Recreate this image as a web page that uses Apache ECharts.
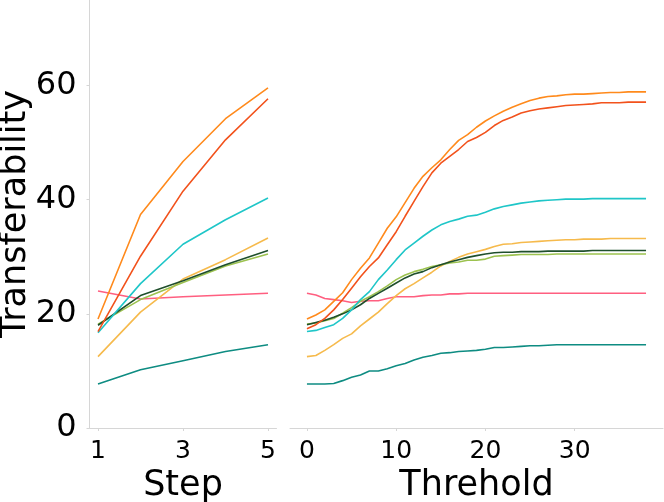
<!DOCTYPE html>
<html>
<head>
<meta charset="utf-8">
<script src="https://cdn.jsdelivr.net/npm/echarts@6/dist/echarts.min.js"></script>
<style>
  html, body { margin: 0; padding: 0; background: #fff; }
  #chart { width: 664px; height: 502px; }
</style>
</head>
<body>
<div id="chart"></div>
<script>
// x values of the two panels
var steps = [1, 2, 3, 4, 5];
var thresholds = [0, 1, 2, 3, 4, 5, 6, 7, 8, 9, 10, 11, 12, 13, 14, 15, 16, 17, 18, 19,
  20, 21, 22, 23, 24, 25, 26, 27, 28, 29, 30, 31, 32, 33, 34, 35, 36, 37, 38];

// tick labels
var yTicks = [0, 20, 40, 60];
var stepTicks = [1, 3, 5];
var thresholdTicks = [0, 10, 20, 30];

// left panel (Step)
var orangeStep = [19.1, 37.4, 46.7, 54.2, 59.6];
var redStep = [16.9, 30.1, 41.5, 50.5, 57.7];
var cyanStep = [16.7, 25.3, 32.2, 36.5, 40.3];
var yellowStep = [12.5, 20.3, 26.1, 29.5, 33.3];
var darkGreenStep = [18.0, 23.2, 25.8, 28.6, 31.1];
var lightGreenStep = [18.2, 22.5, 25.5, 28.4, 30.5];
var pinkStep = [24.0, 22.6, 23.0, 23.3, 23.6];
var tealStep = [7.7, 10.2, 11.8, 13.4, 14.6];

// right panel (Threhold)
var orangeThr = [19.1, 19.8, 20.7, 22.2, 23.7, 26.0, 28.0, 29.8, 32.4, 35.0, 37.0, 39.5, 42.0, 44.1, 45.6, 47.0, 48.8, 50.4, 51.4, 52.7,
  53.8, 54.7, 55.5, 56.2, 56.8, 57.4, 57.8, 58.1, 58.2, 58.4, 58.5, 58.5, 58.6, 58.7, 58.8, 58.8, 58.9, 58.9, 58.9];
var redThr = [17.4, 18.1, 19.2, 20.7, 22.5, 24.5, 26.5, 28.3, 29.8, 32.1, 34.4, 37.1, 39.7, 42.3, 44.7, 46.4, 47.6, 48.8, 50.2, 50.9,
  51.8, 53.0, 53.9, 54.5, 55.2, 55.6, 55.9, 56.1, 56.3, 56.5, 56.6, 56.7, 56.8, 57.0, 57.0, 57.0, 57.1, 57.1, 57.1];
var cyanThr = [16.9, 17.1, 17.6, 18.1, 19.2, 20.7, 22.5, 23.9, 26.0, 27.7, 29.5, 31.2, 32.4, 33.6, 34.7, 35.6, 36.2, 36.6, 37.1, 37.3,
  37.8, 38.4, 38.8, 39.1, 39.4, 39.6, 39.8, 39.9, 40.0, 40.1, 40.1, 40.1, 40.2, 40.2, 40.2, 40.2, 40.2, 40.2, 40.2];
var yellowThr = [12.5, 12.7, 13.6, 14.6, 15.7, 16.5, 17.9, 19.1, 20.3, 21.8, 23.2, 24.4, 25.3, 26.3, 27.3, 28.4, 29.2, 29.9, 30.5, 30.9,
  31.3, 31.8, 32.2, 32.3, 32.5, 32.6, 32.7, 32.8, 32.9, 33.0, 33.0, 33.1, 33.1, 33.1, 33.2, 33.2, 33.2, 33.2, 33.2];
var darkGreenThr = [18.1, 18.5, 18.9, 19.4, 20.0, 20.7, 21.6, 22.7, 23.6, 24.5, 25.4, 26.3, 27.0, 27.4, 28.1, 28.6, 29.1, 29.5, 29.9, 30.2,
  30.5, 30.7, 30.8, 30.8, 30.9, 30.9, 30.9, 31.0, 31.0, 31.0, 31.0, 31.0, 31.1, 31.1, 31.1, 31.1, 31.1, 31.1, 31.1];
var lightGreenThr = [18.2, 18.4, 18.8, 19.2, 20.1, 21.1, 22.2, 23.0, 23.9, 24.9, 26.0, 26.8, 27.4, 27.8, 28.3, 28.6, 28.9, 29.1, 29.4, 29.4,
  29.6, 30.1, 30.2, 30.3, 30.4, 30.4, 30.4, 30.4, 30.5, 30.5, 30.5, 30.5, 30.5, 30.5, 30.5, 30.5, 30.5, 30.5, 30.5];
var pinkThr = [23.6, 23.3, 22.7, 22.5, 22.3, 22.0, 22.2, 22.3, 22.3, 22.7, 23.0, 23.0, 23.0, 23.2, 23.3, 23.3, 23.5, 23.5, 23.6, 23.6,
  23.6, 23.6, 23.6, 23.6, 23.6, 23.6, 23.6, 23.6, 23.6, 23.6, 23.6, 23.6, 23.6, 23.6, 23.6, 23.6, 23.6, 23.6, 23.6];
var tealThr = [7.7, 7.7, 7.7, 7.8, 8.3, 8.9, 9.3, 10.0, 10.0, 10.4, 10.9, 11.3, 11.9, 12.4, 12.7, 13.1, 13.2, 13.4, 13.5, 13.6,
  13.8, 14.1, 14.1, 14.2, 14.3, 14.4, 14.4, 14.5, 14.6, 14.6, 14.6, 14.6, 14.6, 14.6, 14.6, 14.6, 14.6, 14.6, 14.6];

var lines = [
  ['teal', '#0e8c82', tealStep, tealThr],
  ['pink', '#ff5f80', pinkStep, pinkThr],
  ['yellow', '#f6ba4c', yellowStep, yellowThr],
  ['lightgreen', '#9cc24f', lightGreenStep, lightGreenThr],
  ['darkgreen', '#1f4f2c', darkGreenStep, darkGreenThr],
  ['cyan', '#1fc6c8', cyanStep, cyanThr],
  ['red', '#f2521c', redStep, redThr],
  ['orange', '#ff8a1c', orangeStep, orangeThr]
];

function pairs(xs, ys) {
  return xs.map(function (x, i) { return [x, ys[i]]; });
}

var series = [];
lines.forEach(function (l) {
  series.push({
    name: l[0], type: 'line', xAxisIndex: 0, yAxisIndex: 0,
    data: pairs(steps, l[2]), showSymbol: false, silent: true,
    lineStyle: { color: l[1], width: 1.6 }
  });
  series.push({
    name: l[0], type: 'line', xAxisIndex: 1, yAxisIndex: 1,
    data: pairs(thresholds, l[3]), showSymbol: false, silent: true,
    lineStyle: { color: l[1], width: 1.6 }
  });
});

var font = 'DejaVu Sans';
var axisGray = '#d6d6d6';

var chart = echarts.init(document.getElementById('chart'));
chart.setOption({
  animation: false,
  textStyle: { fontFamily: font },
  grid: [
    { left: 89.5, top: 0, width: 187, height: 428, containLabel: false, outerBoundsMode: 'none' },
    { left: 290, top: 0, width: 373, height: 428, containLabel: false, outerBoundsMode: 'none' }
  ],
  xAxis: [
    {
      type: 'value', gridIndex: 0, min: 0.8, max: 5.2,
      name: 'Step', nameLocation: 'middle', nameGap: 40, nameMoveOverlap: false,
      nameTextStyle: { fontSize: 35, color: '#000', fontFamily: font },
      axisLine: { lineStyle: { color: axisGray } },
      axisTick: { show: true, length: 3, lineStyle: { color: axisGray }, customValues: stepTicks },
      axisLabel: { fontSize: 25, color: '#000', margin: 11, customValues: stepTicks },
      splitLine: { show: false }
    },
    {
      type: 'value', gridIndex: 1, min: -1.9, max: 39.9,
      name: 'Threhold', nameLocation: 'middle', nameGap: 40, nameMoveOverlap: false,
      nameTextStyle: { fontSize: 35, color: '#000', fontFamily: font },
      axisLine: { lineStyle: { color: axisGray } },
      axisTick: { show: true, length: 3, lineStyle: { color: axisGray }, customValues: thresholdTicks },
      axisLabel: { fontSize: 25, color: '#000', margin: 11, customValues: thresholdTicks },
      splitLine: { show: false }
    }
  ],
  yAxis: [
    {
      type: 'value', gridIndex: 0, min: 0, max: 75,
      name: 'Transferability', nameLocation: 'middle', nameGap: 56, nameMoveOverlap: false,
      nameTextStyle: { fontSize: 35, color: '#000', fontFamily: font },
      axisLine: { show: true, lineStyle: { color: axisGray } },
      axisTick: { show: true, length: 3, lineStyle: { color: axisGray }, customValues: yTicks },
      axisLabel: { fontSize: 32, color: '#000', margin: 13, customValues: yTicks },
      splitLine: { show: false }
    },
    {
      type: 'value', gridIndex: 1, min: 0, max: 75, show: false,
      splitLine: { show: false }
    }
  ],
  series: series
});
</script>
</body>
</html>
